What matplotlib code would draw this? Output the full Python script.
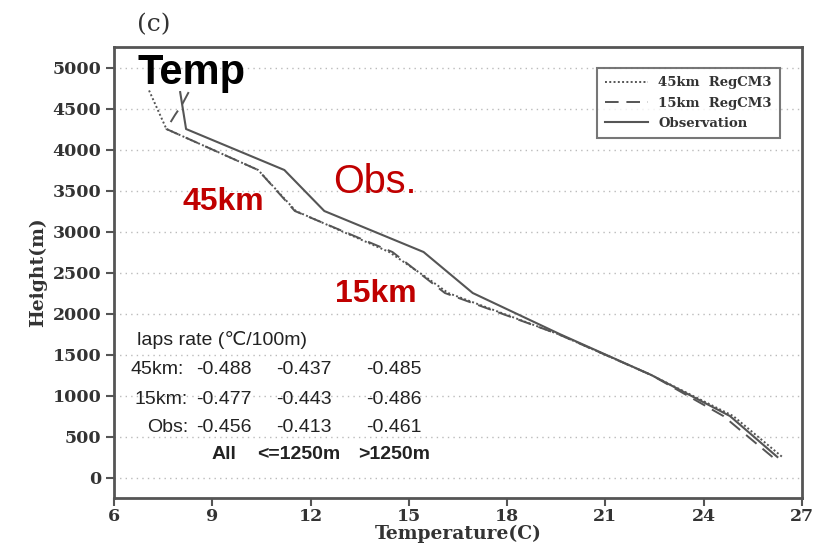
import numpy as np
import matplotlib.pyplot as plt

# profile levels (m) and temperatures (C)
obs_h = [4700, 4250, 3750, 3250, 2750, 2250, 1750, 1250, 750, 250]
obs_t = [8.02, 8.20, 11.20, 12.42, 15.45, 16.95, 19.60, 22.40, 24.80, 26.25]

km45_h = [4720, 4250, 3750, 3250, 2750, 2450, 2250, 1750, 1250, 750, 250]
km45_t = [7.07, 7.60, 10.40, 11.55, 14.40, 15.50, 16.20, 19.55, 22.40, 24.90, 26.40]

km15_h = [4700, 4550, 4420, 4250, 3750, 3250, 2750, 2500, 2250, 1750, 1250, 750, 250]
km15_t = [8.28, 8.08, 7.86, 7.60, 10.40, 11.52, 14.50, 15.30, 16.10, 19.55, 22.40, 24.60, 26.10]

# lapse rates table
rate_rows = ['45km:', '15km:', 'Obs:']
rate_vals = [['-0.488', '-0.437', '-0.485'],
             ['-0.477', '-0.443', '-0.486'],
             ['-0.456', '-0.413', '-0.461']]
rate_cols = ['All', '<=1250m', '>1250m']

xticks = [6, 9, 12, 15, 18, 21, 24, 27]
yticks = [0, 500, 1000, 1500, 2000, 2500, 3000, 3500, 4000, 4500, 5000]

line_col = '#555555'
red = '#c00000'
serif_b = dict(family='DejaVu Serif', weight='bold')

fig = plt.figure(figsize=(8.16, 5.46), dpi=100)
ax = fig.add_axes([0.1397, 0.0879, 0.8431, 0.826])

for y in yticks:
    ax.axhline(y, color='#bbbbbb', lw=1, ls=(0, (1, 3)), zorder=0)

ax.plot(km45_t, km45_h, color=line_col, lw=1.4, ls=(0, (1, 1.2)), label='45km  RegCM3')
ax.plot(km15_t, km15_h, color=line_col, lw=1.4, ls=(0, (7, 4)), label='15km  RegCM3')
ax.plot(obs_t, obs_h, color=line_col, lw=1.5, label='Observation')

ax.set_xlim(6, 27)
ax.set_ylim(-250, 5250)
ax.set_xticks(xticks)
ax.set_yticks(yticks)
for lab in ax.get_xticklabels() + ax.get_yticklabels():
    lab.set_fontfamily('DejaVu Serif')
    lab.set_fontweight('bold')
    lab.set_fontsize(12.5)
    lab.set_color('#333333')
ax.tick_params(direction='out', length=6, width=1.5, color=line_col, pad=3)
ax.tick_params(axis='x', pad=1)
for s in ax.spines.values():
    s.set_color(line_col)
    s.set_linewidth(2)

ax.set_xlabel('Temperature(C)', fontsize=13.5, color='#333333', labelpad=0, **serif_b)
ax.set_ylabel('Height(m)', fontsize=13.5, color='#333333', labelpad=4, **serif_b)

leg = ax.legend(loc='upper right', bbox_to_anchor=(0.977, 0.967), fancybox=False,
                handlelength=3.2, labelspacing=0.55, borderpad=0.6, handletextpad=0.8,
                prop=dict(family='DejaVu Serif', weight='bold', size=9.5))
leg.get_frame().set_edgecolor(line_col)
leg.get_frame().set_linewidth(1.5)
for t in leg.get_texts():
    t.set_color('#333333')

fig.text(154 / 816, 1 - 25 / 546, '(c)', ha='center', va='center', fontsize=18,
         family='DejaVu Serif', color='#333333')

# overlay labels
sans = ['Liberation Sans', 'DejaVu Sans']
ax.text(6.73, 4939, 'Temp', fontsize=30, weight='bold', family=sans, va='center', color='black')
ax.text(12.69, 3598, 'Obs.', fontsize=28.5, family=sans, va='center', color=red)
ax.text(8.10, 3354, '45km', fontsize=23, weight='bold', family=sans, va='center', color=red)
ax.text(12.75, 2232, '15km', fontsize=23, weight='bold', family=sans, va='center', color=red)

txt = dict(fontsize=14, family=sans, va='center', color='#222222')
ax.text(6.70, 1683, 'laps rate (\u2103/100m)', **txt)
row_x = [6.49, 6.64, 7.00]
row_y = [1317, 951, 610]
col_x = [8.50, 10.95, 13.70]
for i in range(3):
    ax.text(row_x[i], row_y[i], rate_rows[i], **txt)
    for j in range(3):
        ax.text(col_x[j], row_y[i], rate_vals[i][j], **txt)
head_x = [8.99, 10.37, 13.45]
for j in range(3):
    ax.text(head_x[j], 280, rate_cols[j], fontsize=14, weight='bold', family=sans,
            va='center', color='#222222')

fig.savefig('out.png', dpi=100)
